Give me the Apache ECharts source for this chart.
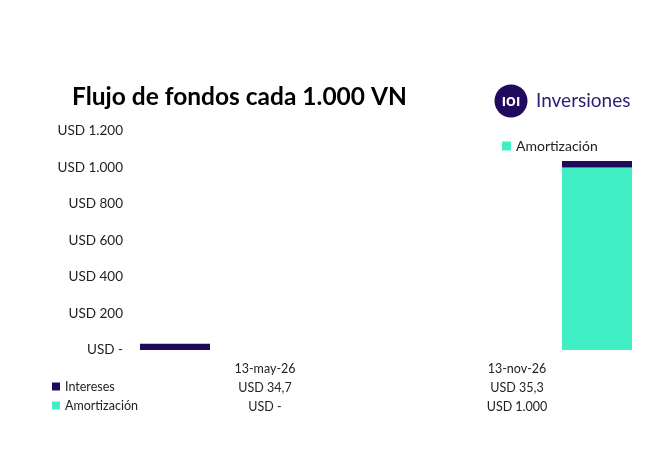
<!DOCTYPE html>
<html>
<head>
<meta charset="utf-8">
<script src="https://cdn.jsdelivr.net/npm/echarts@6/dist/echarts.min.js"></script>
<style>html,body{margin:0;padding:0;background:#fff}#c{width:653px;height:475px}</style>
</head>
<body>
<div id="c"></div>
<script>
const categories = ['13-may-26', '13-nov-26'];
const intereses = [34.7, 35.3];
const amortizacion = [0, 1000];
const yTicks = [0, 200, 400, 600, 800, 1000, 1200];

const NAVY = '#1f0a5e';
const TEAL = '#40f0c4';
const FONT = 'Lato';

function fmtUSD(v) {
  if (!v) return 'USD -';
  const parts = String(v).split('.');
  const intPart = parts[0].replace(/\B(?=(\d{3})+(?!\d))/g, '.');
  return 'USD ' + intPart + (parts[1] ? ',' + parts[1] : '');
}

const chart = echarts.init(document.getElementById('c'));
chart.setOption({
  backgroundColor: '#fff',
  animation: false,
  textStyle: { fontFamily: FONT },
  title: {
    text: 'Flujo de fondos cada 1.000 VN',
    left: 67, top: 80,
    textStyle: { fontFamily: FONT, fontWeight: 'bold', fontSize: 24.5, color: '#000' }
  },
  legend: [
    {
      data: ['Amortización'],
      left: 497, top: 134,
      itemWidth: 9, itemHeight: 9, itemGap: 5,
      icon: 'rect',
      textStyle: { fontFamily: FONT, fontSize: 14, color: '#222' }
    },
    {
      data: ['Intereses', 'Amortización'],
      orient: 'vertical',
      left: 47, top: 375,
      itemWidth: 8, itemHeight: 8, itemGap: 6,
      icon: 'rect',
      textStyle: { fontFamily: FONT, fontSize: 12.5, color: '#222' }
    }
  ],
  grid: [
    { left: 175, right: 56, top: 131, bottom: 125 },
    { left: 139, width: 504, top: 355, height: 1 }
  ],
  xAxis: [
    {
      type: 'category', gridIndex: 0, data: categories, boundaryGap: false,
      axisLine: { show: false }, axisTick: { show: false }, axisLabel: { show: false }
    },
    {
      type: 'category', gridIndex: 1, data: categories,
      axisLine: { show: false }, axisTick: { show: false },
      axisLabel: {
        margin: 3,
        fontFamily: FONT, fontSize: 12.5, color: '#222', lineHeight: 19,
        formatter: function (v, i) {
          return v + '\n' + fmtUSD(intereses[i]) + '\n' + fmtUSD(amortizacion[i]);
        }
      }
    }
  ],
  yAxis: [
    {
      type: 'value', gridIndex: 0, min: 0, max: 1200, interval: 200,
      splitLine: { show: false }, axisLine: { show: false }, axisTick: { show: false },
      axisLabel: {
        margin: 52, fontFamily: FONT, fontSize: 13.5, color: '#222',
        formatter: function (v) { return yTicks.indexOf(v) >= 0 ? fmtUSD(v) : ''; }
      }
    },
    { type: 'value', gridIndex: 1, show: false }
  ],
  series: [
    {
      name: 'Amortización', type: 'bar', stack: 'a', data: amortizacion,
      xAxisIndex: 0, yAxisIndex: 0, barWidth: 70,
      itemStyle: { color: TEAL }
    },
    {
      name: 'Intereses', type: 'bar', stack: 'a', data: intereses,
      xAxisIndex: 0, yAxisIndex: 0, barWidth: 70,
      itemStyle: { color: NAVY }
    }
  ],
  graphic: [
    { type: 'circle', shape: { cx: 511, cy: 101, r: 16.5 }, style: { fill: NAVY } },
    { type: 'text', style: { text: 'ıoı', x: 511, y: 101, align: 'center', verticalAlign: 'middle', fill: '#fff', font: 'bold 17px ' + FONT } },
    { type: 'text', style: { text: 'Inversiones', x: 536, y: 101, verticalAlign: 'middle', fill: '#2b1d72', font: '19px ' + FONT } }
  ]
});
</script>
</body>
</html>
